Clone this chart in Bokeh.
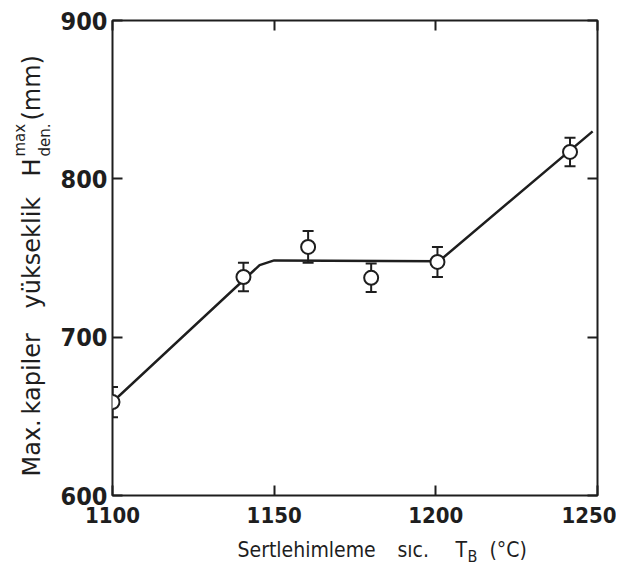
import math
from bokeh.plotting import figure
from bokeh.layouts import row, column
from bokeh.models import FixedTicker, LinearAxis, Label, Range1d, ColumnDataSource
from bokeh.embed import file_html
from bokeh.resources import INLINE

# --- data ---
temp_pts = [1100, 1140.5, 1160.5, 1180.0, 1200.5, 1241.5]
height_pts = [659, 738, 757, 737.5, 747.5, 817]
height_err = [9.5, 9, 10, 9, 9.5, 9]

curve_temp = [1100, 1145.5, 1150, 1201, 1248.5]
curve_height = [659, 745.5, 748.5, 748, 830]

x_ticks = [1100, 1150, 1200, 1250]
y_ticks = [600, 700, 800, 900]

TICK_FONT = "DejaVu Sans Condensed, DejaVu Sans"
COND_FONT = "DejaVu Sans Condensed, DejaVu Sans"
FONT = "DejaVu Sans"
INK = "#1e1e1e"

# layout in picture pixels
TOTAL_W, TOTAL_H = 616, 565
YLAB_W = 54
MAIN_W = TOTAL_W - YLAB_W
XLAB_H = 30
MAIN_H = TOTAL_H - XLAB_H
FL, FR, FT, FB = 112, 597, 20, 495  # plot frame edges

B_LEFT = FL - YLAB_W
B_RIGHT = YLAB_W + MAIN_W - FR

p = figure(width=MAIN_W, height=MAIN_H, output_backend="svg", toolbar_location=None,
           x_range=Range1d(1100, 1250), y_range=Range1d(600, 900),
           min_border_left=B_LEFT, min_border_right=B_RIGHT,
           min_border_top=FT, min_border_bottom=MAIN_H - FB)
p.background_fill_color = "white"
p.border_fill_color = "white"
p.grid.visible = False
p.outline_line_color = INK
p.outline_line_width = 2

for ax in (p.xaxis[0], p.yaxis[0]):
    ax.axis_line_color = None
    ax.major_tick_in = 10
    ax.major_tick_out = 0
    ax.minor_tick_line_color = None
    ax.major_tick_line_color = INK
    ax.major_tick_line_width = 2
    ax.major_label_text_font = TICK_FONT
    ax.major_label_text_color = INK
    ax.major_label_text_font_style = "bold"

p.xaxis[0].ticker = FixedTicker(ticks=x_ticks)
p.yaxis[0].ticker = FixedTicker(ticks=y_ticks)
p.xaxis[0].major_label_text_font_size = "22px"
p.yaxis[0].major_label_text_font_size = "25px"
p.xaxis[0].major_label_standoff = 11
p.yaxis[0].major_label_standoff = 5

top = LinearAxis(ticker=FixedTicker(ticks=x_ticks),
                 major_label_overrides={t: "" for t in x_ticks})
right = LinearAxis(ticker=FixedTicker(ticks=y_ticks),
                   major_label_overrides={t: "" for t in y_ticks})
for ax in (top, right):
    ax.axis_line_color = None
    ax.major_tick_in = 10
    ax.major_tick_out = 0
    ax.minor_tick_line_color = None
    ax.major_tick_line_color = INK
    ax.major_tick_line_width = 2
    ax.major_label_standoff = 0
p.add_layout(top, "above")
p.add_layout(right, "right")

# fitted curve
p.line(curve_temp, curve_height, line_color=INK, line_width=2.5)

# error bars and points
src = ColumnDataSource(dict(
    x=temp_pts, y=height_pts,
    lo=[h - e for h, e in zip(height_pts, height_err)],
    hi=[h + e for h, e in zip(height_pts, height_err)],
))
p.segment(x0="x", y0="lo", x1="x", y1="hi", source=src, line_color=INK, line_width=2)
p.scatter(x="x", y="lo", source=src, marker="dash", size=11, line_color=INK, line_width=2)
p.scatter(x="x", y="hi", source=src, marker="dash", size=11, line_color=INK, line_width=2)
p.scatter(x="x", y="y", source=src, marker="circle", size=14, fill_color="white",
          line_color=INK, line_width=2)


def text_fig(w, h, bl, br, bt, bb, xr, yr):
    f = figure(width=w, height=h, output_backend="svg", toolbar_location=None,
               x_axis_type=None, y_axis_type=None,
               min_border_left=bl, min_border_right=br,
               min_border_top=bt, min_border_bottom=bb,
               x_range=Range1d(*xr), y_range=Range1d(*yr))
    f.outline_line_color = None
    f.background_fill_color = "white"
    f.border_fill_color = "white"
    return f


def lab(f, text, px, py, size, angle=0.0, font=FONT):
    f.add_layout(Label(x=px, y=py, text=text, angle=angle,
                       text_font=font, text_font_size=size, text_color=INK,
                       text_align="left", text_baseline="middle"))


# y-axis title (rotated, reading upward); frame spans picture y FT..FB
yl = text_fig(YLAB_W, TOTAL_H, 0, 0, FT, TOTAL_H - FB, (0, YLAB_W), (FB, FT))
A = math.pi / 2
lab(yl, "Max.", 31, 476, "24px", angle=A)
lab(yl, "kapiler", 31, 414, "24px", angle=A)
lab(yl, "yükseklik", 31, 308, "24px", angle=A)
lab(yl, "H", 31, 176, "24px", angle=A)
lab(yl, "max", 19, 156, "15px", angle=A)
lab(yl, "den.", 44, 156, "15px", angle=A)
lab(yl, "(mm)", 31, 120, "24px", angle=A)

# x-axis title; frame spans picture x FL..FR
xl = text_fig(MAIN_W, XLAB_H, B_LEFT, B_RIGHT, 0, 0, (FL, FR), (TOTAL_H, MAIN_H))
lab(xl, "Sertlehimleme", 237, 549, "21px", font=COND_FONT)
lab(xl, "sıc.", 397, 549, "21px", font=COND_FONT)
lab(xl, "T", 455, 549, "21px", font=COND_FONT)
lab(xl, "B", 467, 556, "16px", font=COND_FONT)
lab(xl, "(°C)", 489, 549, "21px", font=COND_FONT)

layout = row(yl, column(p, xl))
open("out.html", "w").write(file_html(layout, INLINE))
